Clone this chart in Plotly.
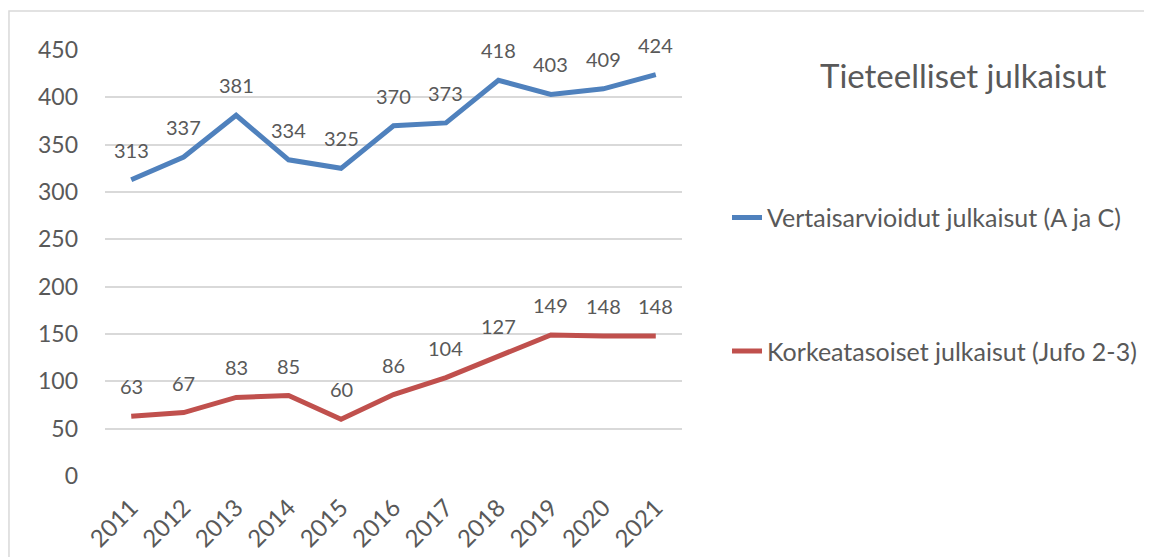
import plotly.graph_objects as go

years = ["2011", "2012", "2013", "2014", "2015", "2016", "2017", "2018", "2019", "2020", "2021"]
vertais = [313, 337, 381, 334, 325, 370, 373, 418, 403, 409, 424]
korkea = [63, 67, 83, 85, 60, 86, 104, 127, 149, 148, 148]
name_v = "Vertaisarvioidut julkaisut (A ja C)"
name_k = "Korkeatasoiset julkaisut (Jufo 2-3)"
title_text = "Tieteelliset julkaisut"
y_ticks = [0, 50, 100, 150, 200, 250, 300, 350, 400, 450]

BLUE = "#4F81BD"
RED = "#C0504D"
TXT = "#595959"
FONT = "Lato"

fig = go.Figure()
fig.add_trace(go.Scatter(x=years, y=vertais, mode="lines", name=name_v,
                         line=dict(color=BLUE, width=5), legendgroup="a"))
fig.add_trace(go.Scatter(x=years, y=korkea, mode="lines", name=name_k,
                         line=dict(color=RED, width=5), legendgroup="b"))

annotations = []
for series in (vertais, korkea):
    for i, v in enumerate(series):
        annotations.append(dict(x=i, y=v, xref="x", yref="y", text=str(v),
                                showarrow=False, yshift=30,
                                font=dict(family=FONT, size=20, color=TXT)))
annotations.append(dict(x=1.487, y=0.941, xref="paper", yref="paper", text=title_text,
                        showarrow=False, xanchor="center", yanchor="middle",
                        font=dict(family=FONT, size=33, color=TXT)))

fig.update_layout(
    width=1152, height=557,
    margin=dict(l=97, r=478, t=42, b=89),
    paper_bgcolor="white", plot_bgcolor="white",
    font=dict(family=FONT, color=TXT),
    showlegend=True,
    legend=dict(x=1.078, y=0.66, xanchor="left", yanchor="top",
                traceorder="grouped", tracegroupgap=98,
                font=dict(family=FONT, size=25, color=TXT),
                bgcolor="rgba(0,0,0,0)", itemwidth=30),
    annotations=annotations,
    shapes=[dict(type="rect", xref="paper", yref="paper",
                 x0=-0.1664, x1=2.0, y0=-0.5, y1=1.0915,
                 line=dict(color="#D9D9D9", width=1.5), layer="below")],
)
fig.update_xaxes(type="category", range=[-0.5, len(years) - 0.5], showgrid=False,
                 showline=False, ticks="", tickangle=-45, ticklabelstandoff=12,
                 automargin=False,
                 tickfont=dict(family=FONT, size=24, color=TXT))
fig.update_yaxes(range=[0, 450], tickvals=y_ticks, showgrid=True, gridcolor="#D9D9D9",
                 gridwidth=1.5, zeroline=False, showline=False, ticks="",
                 automargin=False,
                 ticklabelstandoff=26, tickfont=dict(family=FONT, size=23, color=TXT))

fig.write_html("out.html")
